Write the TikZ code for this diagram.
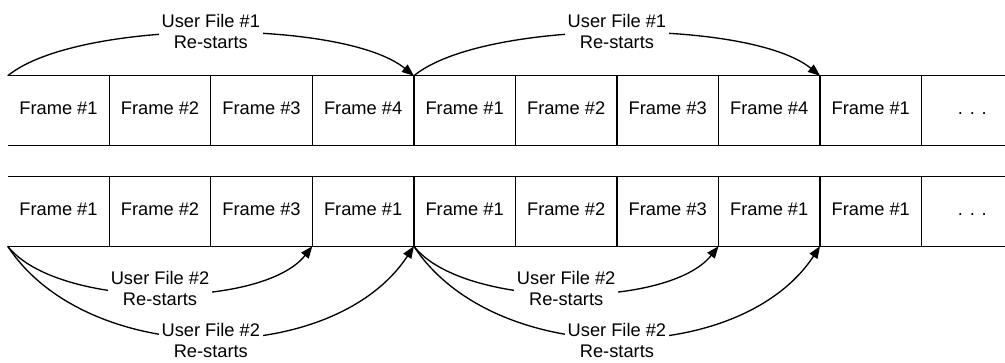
\documentclass[tikz,border=0pt]{standalone}
\usepackage{fontspec}
\setmainfont{Liberation Sans}
\usetikzlibrary{arrows.meta,positioning}

\begin{document}
\begin{tikzpicture}[
    x=0.75pt, y=-0.75pt,
    framebox/.style={rectangle, minimum width=75.75pt, minimum height=51.75pt, inner sep=0pt,
        text height=1.5ex, text depth=.25ex, font=\fontsize{13.7}{16.5}\selectfont},
    rowline/.style={line width=1pt},
    arrow/.style={-{Triangle[length=9pt,width=7pt]}, line width=1pt},
    restarts/.style={fill=white, inner sep=2pt, align=center, font=\fontsize{13.7}{15.5}\selectfont}
]
\useasboundingbox (0,0) rectangle (1005,363);

% top row
\node[framebox] (t1) at (58.5,110.5) {Frame \#1};
\node[framebox, right=0pt of t1] (t2) {Frame \#2};
\node[framebox, right=0pt of t2] (t3) {Frame \#3};
\node[framebox, right=0pt of t3] (t4) {Frame \#4};
\node[framebox, right=0pt of t4] (t5) {Frame \#1};
\node[framebox, right=0pt of t5] (t6) {Frame \#2};
\node[framebox, right=0pt of t6] (t7) {Frame \#3};
\node[framebox, right=0pt of t7] (t8) {Frame \#4};
\node[framebox, right=0pt of t8] (t9) {Frame \#1};
\node[framebox, right=0pt of t9] (t10) {. . .};

% bottom row
\node[framebox] (b1) at (58.5,211.5) {Frame \#1};
\node[framebox, right=0pt of b1] (b2) {Frame \#2};
\node[framebox, right=0pt of b2] (b3) {Frame \#3};
\node[framebox, right=0pt of b3] (b4) {Frame \#1};
\node[framebox, right=0pt of b4] (b5) {Frame \#1};
\node[framebox, right=0pt of b5] (b6) {Frame \#2};
\node[framebox, right=0pt of b6] (b7) {Frame \#3};
\node[framebox, right=0pt of b7] (b8) {Frame \#1};
\node[framebox, right=0pt of b8] (b9) {Frame \#1};
\node[framebox, right=0pt of b9] (b10) {. . .};

\draw[rowline] (t1.north west) -- (t10.north east);
\draw[rowline] (t1.south west) -- (t10.south east);
\draw[rowline] (b1.north west) -- (b10.north east);
\draw[rowline] (b1.south west) -- (b10.south east);
\foreach \i in {1,...,9} {
    \draw[rowline] (t\i.north east) -- (t\i.south east);
    \draw[rowline] (b\i.north east) -- (b\i.south east);
}

% user file #1
\draw[arrow] (t1.north west) .. controls +(70,-57) and +(-70,-57) .. node[restarts, midway, yshift=1pt] {User File \#1\\Re-starts} (t4.north east);
\draw[arrow] (t4.north east) .. controls +(70,-57) and +(-70,-57) .. node[restarts, midway, yshift=1pt] {User File \#1\\Re-starts} (t8.north east);

% user file #2
\draw[arrow] (b1.south west) .. controls +(80,122) and +(-80,122) .. node[restarts, midway, yshift=-2pt] {User File \#2\\Re-starts} (b4.south east);
\draw[arrow] (b1.south west) .. controls +(50,63) and +(-50,63) .. node[restarts, midway, yshift=4pt] {User File \#2\\Re-starts} (b3.south east);
\draw[arrow] (b4.south east) .. controls +(80,122) and +(-80,122) .. node[restarts, midway, yshift=-2pt] {User File \#2\\Re-starts} (b8.south east);
\draw[arrow] (b4.south east) .. controls +(50,63) and +(-50,63) .. node[restarts, midway, yshift=4pt] {User File \#2\\Re-starts} (b7.south east);
\end{tikzpicture}
\end{document}
